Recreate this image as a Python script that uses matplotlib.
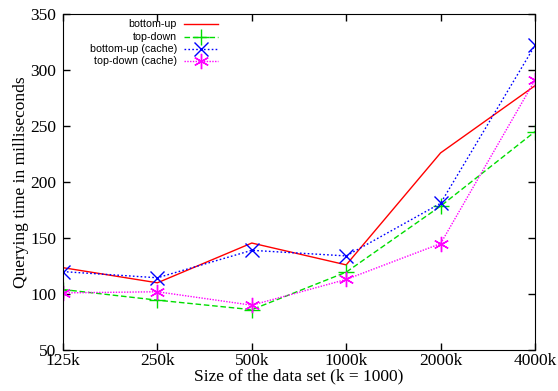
import matplotlib
matplotlib.use("Agg")
import matplotlib.pyplot as plt

sizes = ["125k", "250k", "500k", "1000k", "2000k", "4000k"]
bottom_up = [123.5, 110, 145.5, 126, 226, 286]
top_down = [104, 94.5, 86, 119.5, 178.5, 245]
bottom_up_cache = [120, 114.5, 139, 134, 181, 322]
top_down_cache = [101, 102, 90, 113, 145, 291]

ast = (6, 2, 0)
series = [
    ("bottom-up", bottom_up, dict(color="red", linestyle="-", marker=None)),
    ("top-down", top_down, dict(color="#00dd00", linestyle=(0, (4, 2)), marker="+", markersize=12)),
    ("bottom-up (cache)", bottom_up_cache, dict(color="blue", linestyle=(0, (1.2, 1.6)), marker="x", markersize=10)),
    ("top-down (cache)", top_down_cache, dict(color="magenta", linestyle=(0, (1, 1)), marker=ast, markersize=11)),
]

fig = plt.figure(figsize=(5.58, 3.91), dpi=100)
ax = fig.add_axes([63 / 558, 41 / 391, 472 / 558, 336 / 391])
x = list(range(len(sizes)))
for label, vals, st in series:
    ax.plot(x, vals, linewidth=1, markeredgewidth=1, **st)

ax.set_xlim(0, len(sizes) - 1)
ax.set_ylim(50, 350)
ax.set_xticks(x)
ax.set_xticklabels(sizes)
ax.set_yticks(range(50, 351, 50))
serif = "Liberation Serif"
for t in ax.get_xticklabels() + ax.get_yticklabels():
    t.set_fontfamily(serif)
    t.set_fontsize(12.5)
ax.tick_params(direction="in", length=5, width=1, top=True, right=True)
ax.tick_params(axis="x", pad=2)
ax.tick_params(axis="y", pad=5)
ax.set_xlabel("Size of the data set (k = 1000)", fontfamily=serif, fontsize=12.5, labelpad=0)
ax.set_ylabel("Querying time in milliseconds", fontfamily=serif, fontsize=12.5, labelpad=1)

# gnuplot-style legend: label right-aligned, sample line to its right
tr = ax.transAxes
ytop = 0.969
for i, (label, vals, st) in enumerate(series):
    yy = ytop - i * 0.0365
    ax.text((177 - 63) / 472, yy, label, transform=tr, ha="right", va="center",
            fontfamily="Liberation Sans", fontsize=7.7)
    ax.plot([(184 - 63) / 472, (218 - 63) / 472], [yy, yy], transform=tr,
            color=st["color"], linestyle=st["linestyle"], linewidth=1, clip_on=False)
    if st["marker"]:
        ax.plot([(201 - 63) / 472], [yy], transform=tr, color=st["color"],
                marker=st["marker"], markersize=st["markersize"], linestyle="none")

fig.savefig("out.png", dpi=100)
